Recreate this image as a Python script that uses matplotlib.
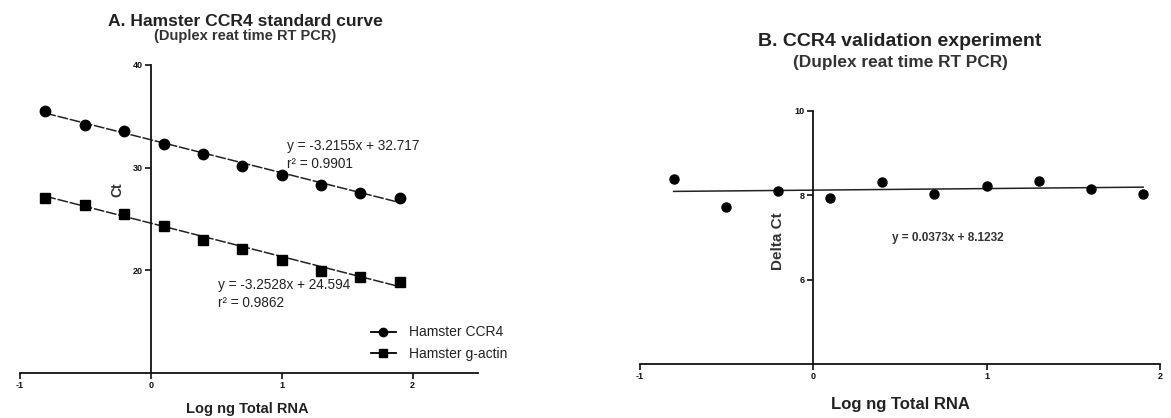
import matplotlib
matplotlib.use("Agg")
import matplotlib.pyplot as plt
import numpy as np

plt.rcParams["font.family"] = ["Liberation Sans", "DejaVu Sans"]
plt.rcParams["axes.unicode_minus"] = False

# log10 of 2-fold dilution series of total RNA (ng)
log_rna = [-0.806, -0.505, -0.204, 0.097, 0.398, 0.699, 1.0, 1.301, 1.602, 1.903]

# panel A: Ct values
ct_ccr4 = [35.5, 34.2, 33.6, 32.3, 31.35, 30.2, 29.3, 28.3, 27.5, 27.0]
ct_actin = [27.05, 26.4, 25.5, 24.3, 23.0, 22.1, 21.0, 19.9, 19.35, 18.85]
fit_ccr4 = (-3.2155, 32.717)
fit_actin = (-3.2528, 24.594)
r2_ccr4 = "0.9901"
r2_actin = "0.9862"

# panel B: delta Ct
delta_ct = [8.39, 7.72, 8.10, 7.94, 8.31, 8.04, 8.23, 8.33, 8.16, 8.04]
fit_delta = (0.0373, 8.1232)

W, H = 1171, 418
fig = plt.figure(figsize=(W / 100, H / 100), dpi=100)


def px_axes(x0, x1, ytop, ybot):
    return fig.add_axes([x0 / W, (H - ybot) / H, (x1 - x0) / W, (ybot - ytop) / H])


def px_text(x, y, s, **kw):
    fig.text(x / W, 1 - y / H, s, **kw)


def style(ax):
    ax.spines["top"].set_visible(False)
    ax.spines["right"].set_visible(False)
    ax.spines["left"].set_position(("data", 0))
    for s in ("left", "bottom"):
        ax.spines[s].set_linewidth(1.3)
        ax.spines[s].set_color("#111111")
    ax.tick_params(axis="both", direction="out", length=4, width=1.2,
                   labelsize=6.5, pad=2, colors="#111111")
    for lab in ax.get_xticklabels() + ax.get_yticklabels():
        lab.set_fontweight("bold")


xs = np.array(log_rna)
xfit = np.array([xs.min(), xs.max()])
ink = "#222222"

# ---------------- panel A ----------------
axA = px_axes(20, 478, 65, 373)
axA.set_xlim(-1, 2.5)
axA.set_ylim(10, 40)
axA.set_xticks([-1, 0, 1, 2])
axA.set_yticks([20, 30, 40])
axA.plot(xfit, fit_ccr4[0] * xfit + fit_ccr4[1], color=ink, lw=1.1, dashes=(7, 1.2))
axA.plot(xfit, fit_actin[0] * xfit + fit_actin[1], color=ink, lw=1.1, dashes=(7, 1.2))
axA.plot(xs, ct_ccr4, "o", color="black", ms=7.5)
axA.plot(xs, ct_actin, "s", color="black", ms=6.5)
style(axA)

px_text(247, 409, "Log ng Total RNA", ha="center", va="center", fontsize=10.5,
        fontweight="bold", color=ink)
px_text(117, 190, "Ct", rotation=90, ha="center", va="center", fontsize=10,
        fontweight="bold", color="#333333")
px_text(287, 146, f"y = {fit_ccr4[0]}x + {fit_ccr4[1]}", fontsize=9.8, color=ink, va="center")
px_text(287, 164, f"r² = {r2_ccr4}", fontsize=9.8, color=ink, va="center")
px_text(218, 285, f"y = {fit_actin[0]}x + {fit_actin[1]}", fontsize=9.8, color=ink, va="center")
px_text(218, 303, f"r² = {r2_actin}", fontsize=9.8, color=ink, va="center")

handles = [
    plt.Line2D([0], [0], color="black", lw=1.3, marker="o", ms=6),
    plt.Line2D([0], [0], color="black", lw=1.3, marker="s", ms=5.5),
]
fig.legend(handles, ["Hamster CCR4", "Hamster g-actin"], loc="upper left",
           bbox_to_anchor=(358 / W, 1 - 313 / H), frameon=False, fontsize=10,
           handlelength=1.8, handletextpad=1.0, labelspacing=0.55,
           labelcolor=ink)

px_text(245, 22, "A. Hamster CCR4 standard curve", ha="center", va="center",
        fontsize=12.6, fontweight="bold", color=ink)
px_text(245, 36, "(Duplex reat time RT PCR)", ha="center", va="center",
        fontsize=10.5, fontweight="bold", color="#333333")

# ---------------- panel B ----------------
axB = px_axes(640, 1160, 111, 364)
axB.set_xlim(-1, 2)
axB.set_ylim(4, 10)
axB.set_xticks([-1, 0, 1, 2])
axB.set_yticks([6, 8, 10])
axB.plot(xfit, fit_delta[0] * xfit + fit_delta[1], color=ink, lw=1.1)
axB.plot(xs, delta_ct, "o", color="black", ms=6.5)
style(axB)

px_text(900, 405, "Log ng Total RNA", ha="center", va="center", fontsize=12,
        fontweight="bold", color=ink)
px_text(778, 241, "Delta Ct", rotation=90, ha="center", va="center", fontsize=11,
        fontweight="bold", color="#333333")
px_text(892, 238, f"y = {fit_delta[0]}x + {fit_delta[1]}", fontsize=8.5,
        fontweight="bold", color="#333333", va="center")

px_text(900, 42, "B. CCR4 validation experiment", ha="center", va="center",
        fontsize=14, fontweight="bold", color=ink)
px_text(900, 63, "(Duplex reat time RT PCR)", ha="center", va="center",
        fontsize=12.4, fontweight="bold", color="#333333")

fig.savefig("out.png", dpi=100)
